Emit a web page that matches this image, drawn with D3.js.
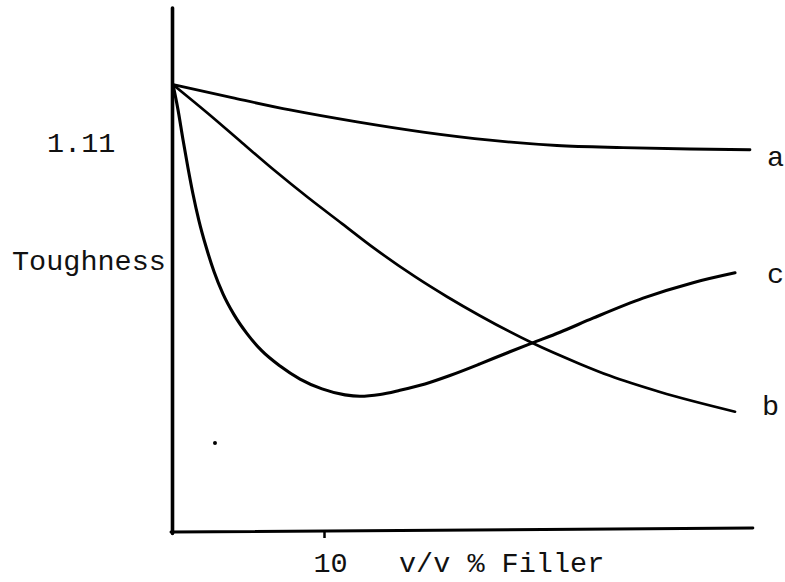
<!DOCTYPE html>
<html>
<head>
<meta charset="utf-8">
<script src="https://cdn.jsdelivr.net/npm/d3@7"></script>
<style>
  html, body { margin: 0; padding: 0; background: #fff; }
  svg { display: block; }
  text { font-family: "Liberation Mono", "Courier New", "DejaVu Sans Mono", monospace; fill: #111; }
</style>
</head>
<body>
<svg id="chart" width="785" height="582"></svg>
<script>
// Filler content (v/v %) and relative toughness for three filler systems
const seriesNames = ["a", "b", "c"];

const fillerA = [0, 3.91, 7.75, 12.19, 16.56, 20.99, 25.43, 29.80, 34.24, 38.21];
const toughA  = [1.272, 1.235, 1.200, 1.166, 1.137, 1.114, 1.099, 1.093, 1.089, 1.087];

const fillerB = [0, 2.32, 4.57, 6.75, 8.94, 11.19, 13.38, 16.03, 18.15, 20.33, 23.77, 26.95, 28.94, 32.25, 37.22];
const toughB  = [1.272, 1.190, 1.107, 1.027, 0.951, 0.877, 0.805, 0.726, 0.669, 0.615, 0.538, 0.478, 0.444, 0.398, 0.342];

const fillerC = [0, 0.33, 0.66, 0.99, 1.32, 1.72, 2.19, 2.72, 3.31, 4.04, 4.90, 5.89, 7.09, 8.41, 9.87, 11.39, 12.38,
                 13.71, 15.03, 16.69, 18.34, 20.33, 21.99, 23.77, 25.63, 27.81, 31.13, 34.44, 37.22];
const toughC  = [1.272, 1.201, 1.116, 1.036, 0.962, 0.885, 0.811, 0.740, 0.677, 0.618, 0.564, 0.515, 0.472, 0.435, 0.407, 0.390, 0.386,
                 0.391, 0.403, 0.421, 0.445, 0.478, 0.507, 0.537, 0.568, 0.608, 0.665, 0.709, 0.737];

const xTickValues = [10];
const xTickLabels = ["10"];
const yMarkValue = 1.11;
const yMarkLabel = "1.11";
const yTitle = "Toughness";
const xTitle = "v/v % Filler";

// stray ink dot on the sheet
const speckX = [2.78];
const speckY = [0.253];

const svg = d3.select("#chart");
const fontSize = "28.5px";

const x = d3.scaleLinear().domain([0, 10]).range([173, 324]);
const y = d3.scaleLinear().domain([0, 1.49]).range([532, 8]);
const xEnd = 38.4;

// axes: heavy hand-drawn style lines
svg.append("line")
  .attr("x1", x(0) - 0.5).attr("x2", x(0) - 0.5)
  .attr("y1", y(1.49)).attr("y2", y(0) + 1.5)
  .attr("stroke", "#000").attr("stroke-width", 3.6).attr("stroke-linecap", "round");

svg.append("line")
  .attr("x1", x(0) - 2).attr("x2", x(xEnd))
  .attr("y1", y(0)).attr("y2", y(0) - 4)
  .attr("stroke", "#000").attr("stroke-width", 3).attr("stroke-linecap", "round");

// x tick
const xAxis = d3.axisBottom(x).tickValues(xTickValues).tickSize(6).tickFormat((d, i) => xTickLabels[i]);
const gx = svg.append("g").attr("transform", `translate(0,${y(0)})`).call(xAxis);
gx.select(".domain").remove();
gx.selectAll(".tick line").attr("stroke", "#000").attr("stroke-width", 2.5);
gx.selectAll(".tick text")
  .attr("dx", 6).attr("y", 40).attr("dy", 0)
  .style("font-size", fontSize).style("font-family", "Liberation Mono, monospace").attr("fill", "#111");

// y marker label and titles
svg.append("text").attr("x", 47).attr("y", y(yMarkValue) + 10)
  .style("font-size", fontSize).text(yMarkLabel);
svg.append("text").attr("x", 12).attr("y", 270)
  .style("font-size", fontSize).text(yTitle);
svg.append("text").attr("x", 399).attr("y", 572)
  .style("font-size", fontSize).text(xTitle);

// curves
const series = [
  { name: seriesNames[0], xs: fillerA, ys: toughA, w: 2.8, dx: 17, dy: 16 },
  { name: seriesNames[1], xs: fillerB, ys: toughB, w: 2.7, dx: 27, dy: 3 },
  { name: seriesNames[2], xs: fillerC, ys: toughC, w: 3.1, dx: 32, dy: 10 }
];

const line = d3.line()
  .x(d => x(d[0]))
  .y(d => y(d[1]))
  .curve(d3.curveMonotoneX);

series.forEach(s => {
  const pts = s.xs.map((v, i) => [v, s.ys[i]]);
  svg.append("path")
    .datum(pts)
    .attr("d", line)
    .attr("fill", "none")
    .attr("stroke", "#000")
    .attr("stroke-width", s.w)
    .attr("stroke-linecap", "round")
    .attr("stroke-linejoin", "round");
  const last = pts[pts.length - 1];
  svg.append("text")
    .attr("x", x(last[0]) + s.dx)
    .attr("y", y(last[1]) + s.dy)
    .style("font-size", fontSize)
    .text(s.name);
});

svg.selectAll("circle.speck")
  .data(speckX.map((v, i) => [v, speckY[i]]))
  .enter().append("circle")
  .attr("class", "speck")
  .attr("cx", d => x(d[0])).attr("cy", d => y(d[1]))
  .attr("r", 2).attr("fill", "#000");
</script>
</body>
</html>
